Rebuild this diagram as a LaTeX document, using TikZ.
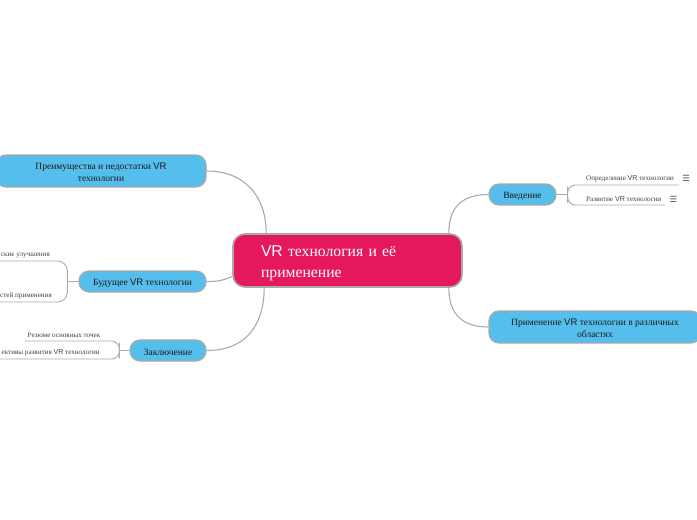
\documentclass[tikz,border=0pt]{standalone}
\usepackage{fontspec}
\setmainfont{Liberation Serif}
\newfontfamily\vrfont{Liberation Sans}
\newfontfamily\iconfont{DejaVu Sans}
\usetikzlibrary{positioning}
\definecolor{corepink}{HTML}{E5185E}
\definecolor{topicblue}{HTML}{56BEEC}
\definecolor{linegray}{HTML}{AAAAAA}
\newcommand{\VR}{{\vrfont VR}}

\begin{document}
\begin{tikzpicture}[x=1pt,y=-1pt,
   conn/.style={draw=linegray, line width=1.1pt},
   core/.style={draw=linegray, line width=1.6pt, fill=corepink, rounded corners=12pt,
      text=white, font=\fontsize{15.7}{21}\selectfont, align=left,
      minimum width=229pt, minimum height=53pt, text width=173pt, inner xsep=28pt},
   topic/.style={draw=linegray, line width=1.2pt, fill=topicblue, rounded corners=10pt,
      text=black!90, font=\fontsize{9.5}{11.5}\selectfont, align=center, inner sep=0pt},
   sub/.style={font=\fontsize{7.1}{8}\selectfont, text=black!75, inner xsep=0pt, inner ysep=3pt},
   icon/.style={font=\iconfont\fontsize{8.5}{9}\selectfont, text=black!70, inner sep=0pt}]
   \useasboundingbox (0,0) rectangle (697,520);

   % main topic
   \node[core] (core) at (347.5,260.5) {\rule{0pt}{17pt}\VR{} технология и её\\применение};

   % left side
   \node[topic, minimum width=210pt, minimum height=32pt] (pros) at (101,171)
      {\rule{0pt}{9.5pt}Преимущества и недостатки \VR{}\\технологии};
   \node[topic, minimum width=127pt, minimum height=21pt] (future) at (142.5,281.5)
      {\rule{0pt}{10pt}Будущее \VR{} технологии};
   \node[topic, minimum width=76pt, minimum height=21pt] (summary) at (168,350.5)
      {\rule{0pt}{9.5pt}Заключение};

   % right side
   \node[topic, minimum width=67pt, minimum height=21pt] (intro) at (522.5,194.5)
      {\rule{0pt}{9.5pt}Введение};
   \node[topic, minimum width=212pt, minimum height=32pt] (usage) at (595,327)
      {\rule{0pt}{9.5pt}Применение \VR{} технологии в различных\\областях};

   \draw[conn] (pros.east) .. controls +(40,0) and +(0,-35) .. ([xshift=34pt]core.north west);
   \draw[conn] (future.east) .. controls +(15,0) and +(-8,3) .. ([yshift=-16pt]core.west);
   \draw[conn] (summary.east) .. controls +(45,0) and +(0,30) .. ([xshift=32pt]core.south west);
   \draw[conn] ([xshift=-14pt]core.north east) .. controls +(0,-30) and +(-22,0) .. (intro.west);
   \draw[conn] ([xshift=-14pt]core.south east) .. controls +(0,30) and +(-22,0) .. (usage.west);

   % subtopics
   \node[sub, anchor=south west] (define) at (586,185) {Определение \VR{} технологии};
   \node[sub, anchor=south west] (growth) at (586,205) {Развитие \VR{} технологии};
   \node[icon, right=8pt of define] (definemenu) {☰};
   \node[icon, right=8pt of growth] (growthmenu) {☰};
   \draw[conn] (intro.east) -- ++(11,0) coordinate (introfork);
   \draw[conn, line width=0.9pt, rounded corners=8pt] ([xshift=5pt]define.south east) -| (introfork)
      |- ([xshift=4pt]growth.south east);

   \node[sub, anchor=south east] (tech) at (50,261) {ские улучшения};
   \node[sub, anchor=south east] (areas) at (52,302) {стей применения};
   \draw[conn] (future.west) -- ++(-11,0) coordinate (futurefork);
   \draw[conn, line width=0.9pt, rounded corners=10pt] ([xshift=-6pt]tech.south west) -| (futurefork)
      |- ([xshift=-6pt]areas.south west);

   \node[sub, anchor=south] (recap) at (64,341) {Резюме основных точек};
   \node[sub, anchor=south east] (outlook) at (100,359) {ективы развития \VR{} технологии};
   \draw[conn] (summary.west) -- ++(-10,0) coordinate (summaryfork);
   \draw[conn, line width=0.9pt, rounded corners=8pt] ([xshift=-3pt]recap.south west) -| (summaryfork)
      |- ([xshift=-5pt]outlook.south west);
\end{tikzpicture}
\end{document}
